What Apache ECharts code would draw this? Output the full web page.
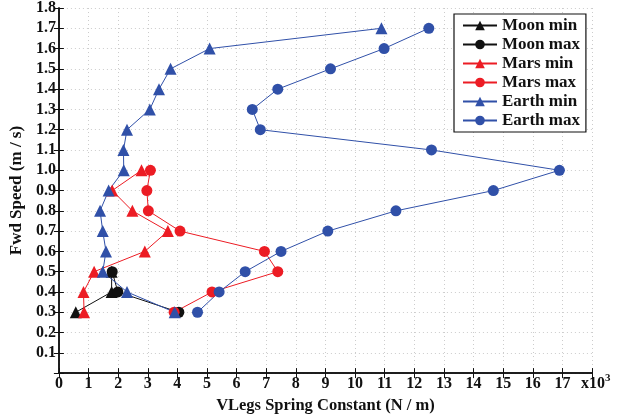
<!DOCTYPE html>
<html>
<head>
<meta charset="utf-8">
<script src="https://cdn.jsdelivr.net/npm/echarts@6/dist/echarts.min.js"></script>
<style>html,body{margin:0;padding:0;background:#fff}#c{width:630px;height:419px}</style>
</head>
<body>
<div id="c"></div>
<script>
// Fwd speed (m/s) values
var moonSpeeds = [0.3, 0.4, 0.5];
var marsSpeeds = [0.3, 0.4, 0.5, 0.6, 0.7, 0.8, 0.9, 1.0];
var earthSpeeds = [0.3, 0.4, 0.5, 0.6, 0.7, 0.8, 0.9, 1.0, 1.1, 1.2, 1.3, 1.4, 1.5, 1.6, 1.7];
// Spring constant (x10^3 N/m)
var moonMin = [0.57, 1.78, 1.78];
var moonMax = [4.05, 1.99, 1.80];
var marsMin = [0.85, 0.83, 1.19, 2.90, 3.68, 2.48, 1.80, 2.79];
var marsMax = [3.89, 5.17, 7.39, 6.94, 4.09, 3.02, 2.97, 3.09];
var earthMin = [3.91, 2.30, 1.48, 1.59, 1.48, 1.39, 1.68, 2.19, 2.18, 2.30, 3.07, 3.38, 3.77, 5.09, 10.89];
var earthMax = [4.68, 5.41, 6.29, 7.50, 9.08, 11.38, 14.67, 16.90, 12.58, 6.80, 6.53, 7.39, 9.17, 10.98, 12.49];

var FONT = '"Liberation Serif", "Times New Roman", serif';
var BLUE = '#3050a8', RED = '#ec1c24', BLACK = '#111111';

function pairs(xs, ys) { return xs.map(function (x, i) { return [x, ys[i]]; }); }
function mk(name, xs, ys, color, sym) {
  return {
    name: name, type: 'line', data: pairs(xs, ys),
    symbol: sym, symbolSize: sym === 'triangle' ? 12 : 11,
    lineStyle: { color: color, width: 1 },
    itemStyle: { color: color },
    emphasis: { disabled: true }, animation: false
  };
}

var chart = echarts.init(document.getElementById('c'));
var gridLine = { show: true, lineStyle: { color: '#cccccc', type: [1, 3], width: 1 } };
chart.setOption({
  animation: false,
  grid: { left: 57, right: 38, top: 5, bottom: 43 },
  xAxis: [{
    type: 'value', min: 0, max: 18, interval: 1,
    name: 'VLegs Spring Constant (N / m)', nameLocation: 'middle', nameGap: 18,
    nameTextStyle: { fontFamily: FONT, fontWeight: 'bold', fontSize: 16.5, color: '#111' },
    axisLine: { lineStyle: { color: '#111', width: 1.5 } },
    axisTick: { inside: true, length: 5, lineStyle: { color: '#111' } },
    axisLabel: { margin: 3, fontFamily: FONT, fontWeight: 'bold', fontSize: 16, color: '#111',
      formatter: function (v) { return v === 18 ? '' : String(v); } },
    splitLine: gridLine
  }, {
    type: 'value', min: 0, max: 18, interval: 1, position: 'top',
    axisLine: { show: true, lineStyle: { color: '#111', width: 1.5 } },
    axisTick: { inside: true, length: 5, lineStyle: { color: '#111' } },
    axisLabel: { show: false }, splitLine: { show: false }
  }],
  yAxis: [{
    type: 'value', min: 0, max: 1.8, interval: 0.1,
    name: 'Fwd Speed (m / s)', nameLocation: 'middle', nameGap: 31,
    nameTextStyle: { fontFamily: FONT, fontWeight: 'bold', fontSize: 17, color: '#111' },
    axisLine: { show: true, lineStyle: { color: '#111', width: 1.5 } },
    axisTick: { show: true, inside: true, length: 5, lineStyle: { color: '#111' } },
    axisLabel: { margin: 3, fontFamily: FONT, fontWeight: 'bold', fontSize: 16, color: '#111',
      formatter: function (v) { return Math.abs(v) < 1e-9 ? '' : v.toFixed(1); } },
    splitLine: gridLine
  }, {
    type: 'value', min: 0, max: 1.8, interval: 0.1, position: 'right',
    axisLine: { show: true, lineStyle: { color: '#111', width: 1.5 } },
    axisTick: { show: true, inside: true, length: 5, lineStyle: { color: '#111' } },
    axisLabel: { show: false }, splitLine: { show: false }
  }],
  legend: {
    orient: 'vertical', left: 454, top: 14,
    padding: [3, 6, 3, 8], itemGap: 2, itemWidth: 34, itemHeight: 12,
    borderColor: '#111', borderWidth: 1.2, backgroundColor: '#fff',
    textStyle: { fontFamily: FONT, fontWeight: 'bold', fontSize: 17, color: '#111', lineHeight: 17 },
    data: ['Moon min', 'Moon max', 'Mars min', 'Mars max', 'Earth min', 'Earth max']
  },
  graphic: [{
    type: 'text', left: 581, top: 373,
    style: {
      text: '{a|x10}{b|3}',
      rich: {
        a: { fontFamily: FONT, fontWeight: 'bold', fontSize: 16, fill: '#111', verticalAlign: 'bottom' },
        b: { fontFamily: FONT, fontWeight: 'bold', fontSize: 11, fill: '#111', verticalAlign: 'top', padding: [0, 0, 8, 0] }
      }
    }
  }],
  series: [
    mk('Moon min', moonMin, moonSpeeds, BLACK, 'triangle'),
    mk('Moon max', moonMax, moonSpeeds, BLACK, 'circle'),
    mk('Mars min', marsMin, marsSpeeds, RED, 'triangle'),
    mk('Mars max', marsMax, marsSpeeds, RED, 'circle'),
    mk('Earth min', earthMin, earthSpeeds, BLUE, 'triangle'),
    mk('Earth max', earthMax, earthSpeeds, BLUE, 'circle')
  ]
});
</script>
</body>
</html>
